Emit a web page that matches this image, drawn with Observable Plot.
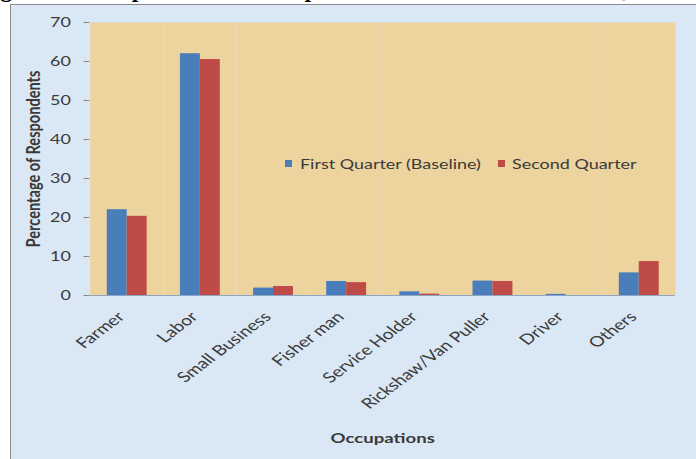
<!DOCTYPE html>
<html>
<head>
<meta charset="utf-8">
<script src="https://cdn.jsdelivr.net/npm/d3@7"></script>
<script src="https://cdn.jsdelivr.net/npm/@observablehq/plot@0.6"></script>
<style>
  html, body { margin: 0; padding: 0; background: #ffffff; width: 696px; height: 459px; overflow: hidden; position: relative; }
  #title { position: absolute; left: 0; top: 0; width: 696px; height: 5px; overflow: hidden; }
  #title div { position: absolute; left: -21px; top: -22px; white-space: nowrap; font-family: "Liberation Serif", "Times New Roman", serif; font-weight: bold; font-size: 24px; line-height: 22px; color: #000; }
  #box { position: absolute; left: 10px; top: 4px; width: 700px; height: 470px; border-left: 1px solid #8a8a8a; border-top: 1px solid #8a8a8a; background: #dae7f4; }
  #chart { position: absolute; left: 0; top: 0; }
  #chart svg { transform: scaleX(1.33); transform-origin: 0 0; }
  .sw { position: absolute; width: 7px; height: 7px; }
  .lt { position: absolute; font-family: Lato, sans-serif; font-size: 13.5px; line-height: 16px; color: #3a3a3a; white-space: nowrap; transform: scaleX(1.33); transform-origin: 0 50%; }
</style>
</head>
<body>
<div id="title"><div>Figure 4: Occupation of the Respondents in First and Second Quarter</div></div>
<div id="box">
  <div id="chart"></div>
</div>
<script>
const categories = ["Farmer", "Labor", "Small Business", "Fisher man", "Service Holder", "Rickshaw/Van Puller", "Driver", "Others"];
const seriesNames = ["First Quarter (Baseline)", "Second Quarter"];
const firstQuarter = [22.0, 62.0, 1.9, 3.6, 0.95, 3.7, 0.3, 5.8];
const secondQuarter = [20.3, 60.5, 2.3, 3.3, 0.35, 3.6, 0.0, 8.7];
const seriesColors = ["#4A7EBB", "#BE4B48"];
const yTicks = [0, 10, 20, 30, 40, 50, 60, 70];
const yLabel = "Percentage of Respondents";
const xLabel = "Occupations";

const rows = categories.flatMap((c, i) => [
  {occupation: c, series: seriesNames[0], value: firstQuarter[i]},
  {occupation: c, series: seriesNames[1], value: secondQuarter[i]}
]);

const chart = Plot.plot({
  width: 515,
  height: 455,
  marginLeft: 56,
  marginRight: 14,
  marginTop: 17,
  marginBottom: 165,
  style: {background: "transparent", fontFamily: "Lato, sans-serif", fontSize: "14px", color: "#3a3a3a", overflow: "visible"},
  fx: {domain: categories, padding: 0, label: null},
  x: {domain: seriesNames, paddingInner: 0, paddingOuter: 0.762, axis: null},
  y: {domain: [0, 70], label: null},
  color: {domain: seriesNames, range: seriesColors},
  marks: [
    Plot.frame({fill: "#EDD49F", stroke: null}),
    Plot.axisY({ticks: yTicks, tickSize: 4.5, tickPadding: 10, stroke: "#8c8c8c", fontSize: 13.5, label: yLabel, labelArrow: "none", labelAnchor: "center", labelOffset: 48}),
    Plot.axisFx({anchor: "bottom", tickRotate: -45, tickSize: 0, tickPadding: 19, dx: -4, fontSize: 14.5, label: xLabel, labelArrow: "none", labelAnchor: "center", labelOffset: 147}),
    Plot.barY(rows, {fx: "occupation", x: "series", y: "value", fill: "series"}),
    Plot.ruleY([0], {stroke: "#8EA6C4", strokeWidth: 1.2})
  ]
});
document.getElementById("chart").appendChild(chart);

// bold axis titles, no arrows
chart.querySelectorAll("g[aria-label='y-axis label'] text").forEach(t => {
  t.style.fontWeight = "bold";
  t.style.fontSize = "14.6px";
  t.textContent = t.textContent.replace(/[\u2190-\u2193]/g, "").trim();
});
chart.querySelectorAll("g[aria-label='fx-axis label'] text").forEach(t => {
  t.style.fontWeight = "bold";
  t.style.fontSize = "14px";
  t.textContent = t.textContent.replace(/[\u2190-\u2193]/g, "").trim();
});

// legend inside plot area (box content coordinates)
const box = document.getElementById("box");
const swLeft = [274, 487];
const txLeft = [289, 501];
seriesNames.forEach((name, i) => {
  const s = document.createElement("div");
  s.className = "sw";
  s.style.left = swLeft[i] + "px";
  s.style.top = "155px";
  s.style.background = seriesColors[i];
  box.appendChild(s);
  const t = document.createElement("div");
  t.className = "lt";
  t.style.left = txLeft[i] + "px";
  t.style.top = "151px";
  t.textContent = name;
  box.appendChild(t);
});
</script>
</body>
</html>
